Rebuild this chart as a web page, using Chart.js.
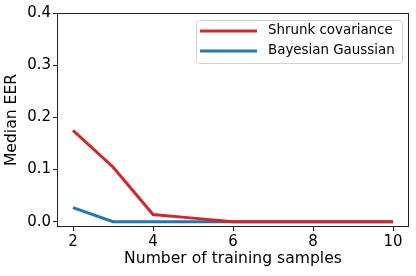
<!DOCTYPE html>
<html>
<head>
<meta charset="utf-8">
<script src="https://cdn.jsdelivr.net/npm/chart.js@4/dist/chart.umd.min.js"></script>
<style>
  html, body { margin: 0; padding: 0; background: #fff; }
  #wrap { width: 416px; height: 276px; }
</style>
</head>
<body>
<div id="wrap"><canvas id="chart" width="416" height="276"></canvas></div>
<script>
// data
var samples = [2, 3, 4, 5, 6, 7, 8, 9, 10];
var shrunkEER = [0.175, 0.105, 0.014, 0.007, 0.0, 0.0, 0.0, 0.0, 0.0];
var bayesEER = [0.027, 0.0, 0.0, 0.0, 0.0, 0.0, 0.0, 0.0, 0.0];
var xTicks = [2, 4, 6, 8, 10];
var yTicks = [0.0, 0.1, 0.2, 0.3, 0.4];

var FONT = "'DejaVu Sans', sans-serif";

function toPoints(xs, ys){
    return xs.map(function(x, i){ return { x: x, y: ys[i] }; });
}

// frame round the plot area + legend in the top right corner
var framePlugin = {
    id: 'frame',
    afterDraw: function(chart){
        var ctx = chart.ctx, a = chart.chartArea;
        ctx.save();
        ctx.strokeStyle = '#222';
        ctx.lineWidth = 1;
        ctx.strokeRect(a.left + 0.5, a.top + 0.5, a.right - a.left - 1, a.bottom - a.top - 1);

        // legend
        var bx = 196, by = 20, bw = 206, bh = 43;
        ctx.fillStyle = 'rgba(255,255,255,0.8)';
        ctx.strokeStyle = '#d0d0d0';
        ctx.beginPath();
        if (ctx.roundRect) ctx.roundRect(bx + 0.5, by + 0.5, bw, bh, 3); else ctx.rect(bx + 0.5, by + 0.5, bw, bh);
        ctx.fill();
        ctx.stroke();
        ctx.font = '13.4px ' + FONT;
        ctx.textBaseline = 'middle';
        chart.data.datasets.forEach(function(ds, i){
            var y = by + 11 + i * 20;
            ctx.strokeStyle = ds.borderColor;
            ctx.lineWidth = 3;
            ctx.beginPath();
            ctx.moveTo(bx + 4, y);
            ctx.lineTo(bx + 61, y);
            ctx.stroke();
            ctx.fillStyle = '#000';
            ctx.fillText(ds.label, bx + 72, y);
        });
        ctx.restore();
    }
};

new Chart(document.getElementById('chart').getContext('2d'), {
    type: 'line',
    data: {
        datasets: [{
            label: 'Shrunk covariance',
            data: toPoints(samples, shrunkEER),
            borderColor: '#d62728',
            borderWidth: 3,
            pointRadius: 0,
            tension: 0
        }, {
            label: 'Bayesian Gaussian',
            data: toPoints(samples, bayesEER),
            borderColor: '#1f77b4',
            borderWidth: 3,
            pointRadius: 0,
            tension: 0
        }]
    },
    options: {
        responsive: false,
        animation: false,
        layout: { padding: { left: 0, top: 13, right: 7, bottom: 0 } },
        plugins: { legend: { display: false }, tooltip: { enabled: false } },
        scales: {
            x: {
                type: 'linear',
                min: 1.6, max: 10.4,
                afterBuildTicks: function(s){ s.ticks = xTicks.map(function(v){ return { value: v }; }); },
                afterFit: function(s){ s.height = 49; },
                grid: { drawOnChartArea: false, drawTicks: true, tickLength: 4, tickColor: '#222' },
                border: { display: false },
                ticks: { color: '#000', font: { family: FONT, size: 15 }, padding: 2, maxRotation: 0 },
                title: { display: true, text: 'Number of training samples', color: '#000', font: { family: FONT, size: 15.6 }, padding: { top: 0, bottom: 8 } }
            },
            y: {
                min: -0.01, max: 0.4,
                afterBuildTicks: function(s){ s.ticks = yTicks.map(function(v){ return { value: v }; }); },
                afterFit: function(s){ s.width = 57; },
                grid: { drawOnChartArea: false, drawTicks: true, tickLength: 4, tickColor: '#222' },
                border: { display: false },
                ticks: { color: '#000', font: { family: FONT, size: 15 }, padding: 2, callback: function(v){ return v.toFixed(1); } },
                title: { display: true, text: 'Median EER', color: '#000', font: { family: FONT, size: 15.6 }, padding: { top: 3, bottom: 2 } }
            }
        }
    },
    plugins: [framePlugin]
});
</script>
</body>
</html>
